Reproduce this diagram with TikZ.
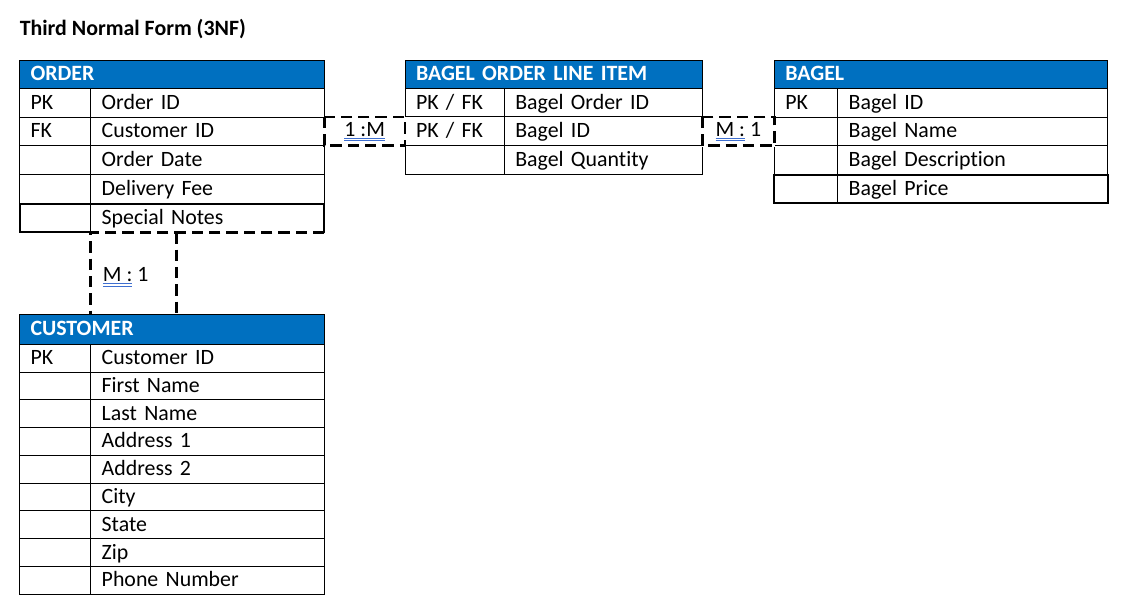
\documentclass[tikz,border=0pt]{standalone}
\usepackage{fontspec}
\setmainfont{Carlito}[Ligatures=NoCommon]
\usetikzlibrary{positioning}
\definecolor{hdrblue}{HTML}{0070C0}
\definecolor{ulblue}{HTML}{3F6FD0}
% blue double underline under a word
\newcommand\spellmark[1]{\setbox0\hbox{#1}\rlap{\color{ulblue}\rule[-1.8pt]{\wd0}{0.55pt}}\rlap{\color{ulblue}\rule[-3.6pt]{\wd0}{0.55pt}}#1}
\begin{document}
\begin{tikzpicture}[x=0.75pt,y=-0.75pt,line join=miter,
  font=\fontsize{16.4}{19}\selectfont,
  cell/.style={draw=black,line width=0.75pt,anchor=north west,outer sep=0pt,
    inner xsep=8.25pt,inner ysep=0pt,align=left,text height=10.8pt,text depth=1.2pt},
  hdr/.style={cell,fill=hdrblue,text=white,font=\fontsize{16.4}{19}\selectfont\bfseries},
  lastrow/.style={line width=1.5pt},
  reldash/.style={line width=2pt,dash pattern=on 8.5pt off 4.5pt,
    preaction={draw=white,solid}}]
\useasboundingbox[fill=white] (0,0) rectangle (1122,615);

\node[anchor=base west,inner sep=0pt,font=\fontsize{16.4}{19}\selectfont\bfseries] (title) at (19.5,35) {Third Normal Form (3NF)};

% ORDER
\node[hdr,text width=212.1pt,minimum height=20.7pt] (ord) at (19.5,60.7) {ORDER};
\foreach \k/\f [count=\i] in {PK/Order ID,FK/Customer ID,/Order Date,/Delivery Fee,/Special Notes}{
  \node[cell,text width=36.9pt,minimum height=21.6pt] (ord-k\i) at (19.5,{88.3+(\i-1)*28.8}) {\k};
  \node[cell,text width=158.7pt,minimum height=21.6pt,right=0pt of ord-k\i] (ord-f\i) {\f};
}
\draw[lastrow] (ord-k5.south east) -- (ord-k5.south west) -- (ord-k5.north west)
  -- (ord-f5.north east) -- (ord-f5.south east);

% CUSTOMER
\node[hdr,text width=212.1pt,minimum height=22.5pt] (cus) at (19.5,314.3) {CUSTOMER};
\foreach \k/\f [count=\i] in {PK/Customer ID,/First Name,/Last Name,/Address 1,/Address 2,/City,/State,/Zip,/Phone Number}{
  \node[cell,text width=36.9pt,minimum height=20.83pt] (cus-k\i) at (19.5,{344.3+(\i-1)*27.78}) {\k};
  \node[cell,text width=158.7pt,minimum height=20.83pt,right=0pt of cus-k\i] (cus-f\i) {\f};
}

% BAGEL ORDER LINE ITEM
\node[hdr,text width=206.5pt,minimum height=20.7pt] (oli) at (405,60.7) {BAGEL ORDER LINE ITEM};
\foreach \k/\f [count=\i] in {{PK / FK}/Bagel Order ID,{PK / FK}/Bagel ID,/Bagel Quantity}{
  \node[cell,text width=58pt,minimum height=21.5pt] (oli-k\i) at (405,{88.3+(\i-1)*28.67}) {\k};
  \node[cell,text width=132pt,minimum height=21.5pt,right=0pt of oli-k\i] (oli-f\i) {\f};
}

% BAGEL
\node[hdr,text width=233.55pt,minimum height=20.7pt] (bag) at (774.3,60.7) {BAGEL};
\foreach \k/\f [count=\i] in {PK/Bagel ID,/Bagel Name,/Bagel Description,/Bagel Price}{
  \node[cell,text width=31.05pt,minimum height=21.56pt] (bag-k\i) at (774.3,{88.3+(\i-1)*28.75}) {\k};
  \node[cell,text width=186pt,minimum height=21.56pt,right=0pt of bag-k\i] (bag-f\i) {\f};
}
\draw[lastrow] (bag-k4.north west) rectangle (bag-f4.south east);

% relationships
\draw[reldash] (ord-f2.north east) rectangle (oli-k2.south west);
\path (ord-f2.north east) -- (oli-k2.south west) node[midway,inner sep=0pt] (rel-ord-oli) {\spellmark{1 :M}};

\draw[reldash] (oli-f2.north east) rectangle (bag-k2.south west);
\path (oli-f2.north east) -- (bag-k2.south west) node[midway,inner sep=0pt] (rel-oli-bag) {\spellmark{M :} 1};

\coordinate (relc) at (176.7,232.3);
\draw[reldash] (ord-f5.south east) -- (ord-f5.south west) -- (ord-f5.south west |- cus.north);
\draw[reldash] (relc) -- (relc |- cus.north);
\node[anchor=base west,inner sep=0pt] (rel-ord-cus) at (102.7,281.7) {\spellmark{M :} 1};
\end{tikzpicture}
\end{document}
